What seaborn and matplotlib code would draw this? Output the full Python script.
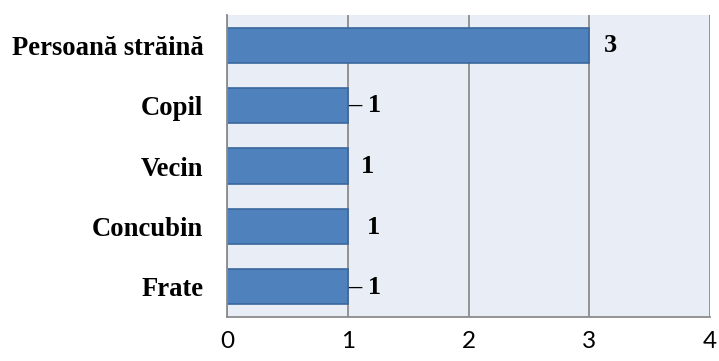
import matplotlib
matplotlib.use("Agg")
import matplotlib.pyplot as plt
import seaborn as sns
import pandas as pd

categories = ["Persoană străină", "Copil", "Vecin", "Concubin", "Frate"]
values = [3, 1, 1, 1, 1]
value_labels = ["3", "– 1", "1", "1", "– 1"]
x_ticks = [0, 1, 2, 3, 4]

df = pd.DataFrame({"categorie": categories, "valoare": values})

sns.set_theme(style="white")
plt.rcParams["font.family"] = ["Liberation Serif", "DejaVu Serif"]
plt.rcParams["text.color"] = "black"
plt.rcParams["xtick.color"] = "black"
plt.rcParams["ytick.color"] = "black"

fig = plt.figure(figsize=(7.19, 3.61), dpi=100)
ax = fig.add_axes([0.3157, 0.1219, 0.9875 - 0.3157, 0.9584 - 0.1219])
ax.set_facecolor("#E9EDF5")

sns.barplot(data=df, y="categorie", x="valoare", orient="h", color="#4F81BD",
            saturation=1, width=0.58, edgecolor="#3A679C", linewidth=1.2, ax=ax)

ax.set_xlim(0, 4)
ax.set_ylim(4.5, -0.5)
ax.set_xticks(x_ticks)
ax.set_xticklabels([str(t) for t in x_ticks], family=["Lato", "DejaVu Sans"],
                   fontsize=17.5, color="black")
ax.set_xlabel("")
ax.set_ylabel("")
ax.tick_params(axis="x", length=0, pad=10)
ax.tick_params(axis="y", length=0, pad=17)
for lab in ax.get_yticklabels():
    lab.set_fontweight("bold")
    lab.set_fontsize(19.2)
    lab.set_color("black")

ax.grid(axis="x", color="#8C8C8C", linewidth=1.3)
ax.set_axisbelow(True)
for side in ["top", "right"]:
    ax.spines[side].set_visible(False)
for side in ["left", "bottom"]:
    ax.spines[side].set_color("#8C8C8C")
    ax.spines[side].set_linewidth(1.3)

# value labels beside each bar
offsets = [(10.5, 0), (0.3, 0), (9.5, 0), (13.5, -0.5), (0.3, -0.5)]
for i, (v, txt) in enumerate(zip(values, value_labels)):
    ax.annotate(txt, xy=(v, i), xytext=offsets[i], textcoords="offset points",
                ha="left", va="center", fontsize=19, fontweight="bold", color="black")

fig.savefig("out.png", dpi=100)
